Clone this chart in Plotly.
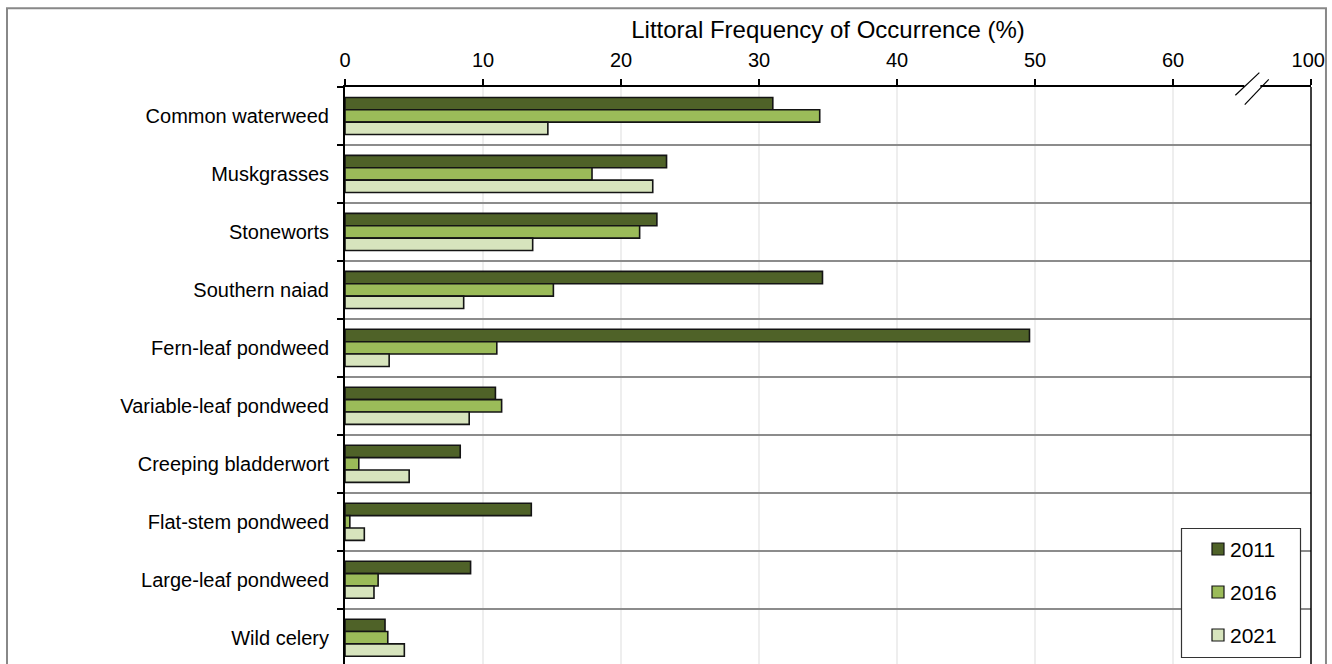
import plotly.graph_objects as go

# Species surveyed (top to bottom)
species = [
    "Common waterweed",
    "Muskgrasses",
    "Stoneworts",
    "Southern naiad",
    "Fern-leaf pondweed",
    "Variable-leaf pondweed",
    "Creeping bladderwort",
    "Flat-stem pondweed",
    "Large-leaf pondweed",
    "Wild celery",
]

# Littoral frequency of occurrence (%) per survey year
freq_2011 = [31.0, 23.3, 22.6, 34.6, 49.6, 10.9, 8.35, 13.5, 9.1, 2.9]
freq_2016 = [34.4, 17.9, 21.35, 15.1, 11.0, 11.35, 1.0, 0.35, 2.4, 3.1]
freq_2021 = [14.7, 22.3, 13.6, 8.6, 3.2, 9.0, 4.65, 1.4, 2.1, 4.3]

years = ["2011", "2016", "2021"]
colors = ["#4F6228", "#9BBB59", "#D7E4BD"]

# Axis ticks: the scale is broken after 60, the right edge reads 100
tick_vals = [0, 10, 20, 30, 40, 50, 60, 70]
tick_text = ["0", "10", "20", "30", "40", "50", "60", "100\u00a0"]

FONT = "Liberation Sans, Arial, sans-serif"

fig = go.Figure()
for yr, vals, col in zip(years, [freq_2011, freq_2016, freq_2021], colors):
    fig.add_trace(go.Bar(
        x=vals,
        y=species,
        orientation="h",
        name=yr,
        showlegend=False,
        marker=dict(color=col, line=dict(color="#141414", width=1.6)),
    ))

fig.update_layout(
    width=1332,
    height=664,
    margin=dict(l=345, r=21, t=87, b=0),
    paper_bgcolor="white",
    plot_bgcolor="white",
    barmode="group",
    bargap=0.36,
    bargroupgap=0,
    font=dict(family=FONT, color="black"),
    xaxis=dict(
        side="top",
        range=[0, 70],
        tickvals=tick_vals,
        ticktext=tick_text,
        ticks="outside",
        ticklen=6,
        tickcolor="black",
        tickwidth=1.5,
        ticklabelstandoff=4,
        showline=True,
        linecolor="black",
        linewidth=1.5,
        showgrid=True,
        gridcolor="#EEEEEE",
        gridwidth=1.5,
        zeroline=False,
        tickfont=dict(size=20),
        title=dict(text="Littoral Frequency of Occurrence (%)",
                   font=dict(size=24), standoff=4),
    ),
    yaxis=dict(
        type="category",
        categoryorder="array",
        categoryarray=species,
        range=[9.453, -0.5],
        tickson="boundaries",
        ticks="outside",
        ticklen=6,
        tickcolor="black",
        tickwidth=1.5,
        showline=True,
        linecolor="black",
        linewidth=2,
        showgrid=True,
        gridcolor="#8C8C8C",
        gridwidth=1.5,
        tickfont=dict(size=20),
        ticklabelstandoff=10,
    ),
)

shapes = [
    # right-hand border of the plot area
    dict(type="line", xref="paper", yref="paper", x0=1, x1=1, y0=0, y1=1,
         line=dict(color="black", width=1.5)),
    # outer frame
    dict(type="rect", xref="paper", yref="paper", x0=-0.3499, x1=1.0155,
         y0=-0.05, y1=1.1363, line=dict(color="#888888", width=2)),
    # gap in the top axis line for the scale break
    dict(type="rect", xref="x", yref="paper", xsizemode="pixel", ysizemode="pixel",
         xanchor=65.75, yanchor=1, x0=-8, x1=8, y0=-2, y1=2,
         fillcolor="white", line=dict(width=0)),
    # break slashes
    dict(type="line", xref="x", yref="paper", xsizemode="pixel", ysizemode="pixel",
         xanchor=65.75, yanchor=1, x0=-17, x1=7, y0=-8.3, y1=14.4,
         line=dict(color="black", width=1.2)),
    dict(type="line", xref="x", yref="paper", xsizemode="pixel", ysizemode="pixel",
         xanchor=65.75, yanchor=1, x0=-7.6, x1=16.4, y0=-17.6, y1=7.7,
         line=dict(color="black", width=1.2)),
    # legend box, anchored to the lower-right corner of the plot area
    dict(type="rect", xref="paper", yref="paper", xsizemode="pixel", ysizemode="pixel",
         xanchor=1, yanchor=0, x0=-129.5, x1=-10.5, y0=6.5, y1=135.5,
         fillcolor="white", line=dict(color="#333333", width=1.2), layer="above"),
]

annotations = []
row_offsets = [115, 72, 29]  # pixel height of each legend row above the plot bottom
for yr, col, dy in zip(years, colors, row_offsets):
    shapes.append(dict(
        type="rect", xref="paper", yref="paper", xsizemode="pixel", ysizemode="pixel",
        xanchor=1, yanchor=0, x0=-99, x1=-87, y0=dy - 6, y1=dy + 6,
        fillcolor=col, line=dict(color="#141414", width=1.2), layer="above"))
    annotations.append(dict(
        x=1, y=0, xref="paper", yref="paper", xanchor="left", yanchor="middle",
        xshift=-83, yshift=dy, text=yr, showarrow=False,
        font=dict(size=21, family=FONT, color="black")))

fig.update_layout(shapes=shapes, annotations=annotations)

fig.write_html("out.html")
